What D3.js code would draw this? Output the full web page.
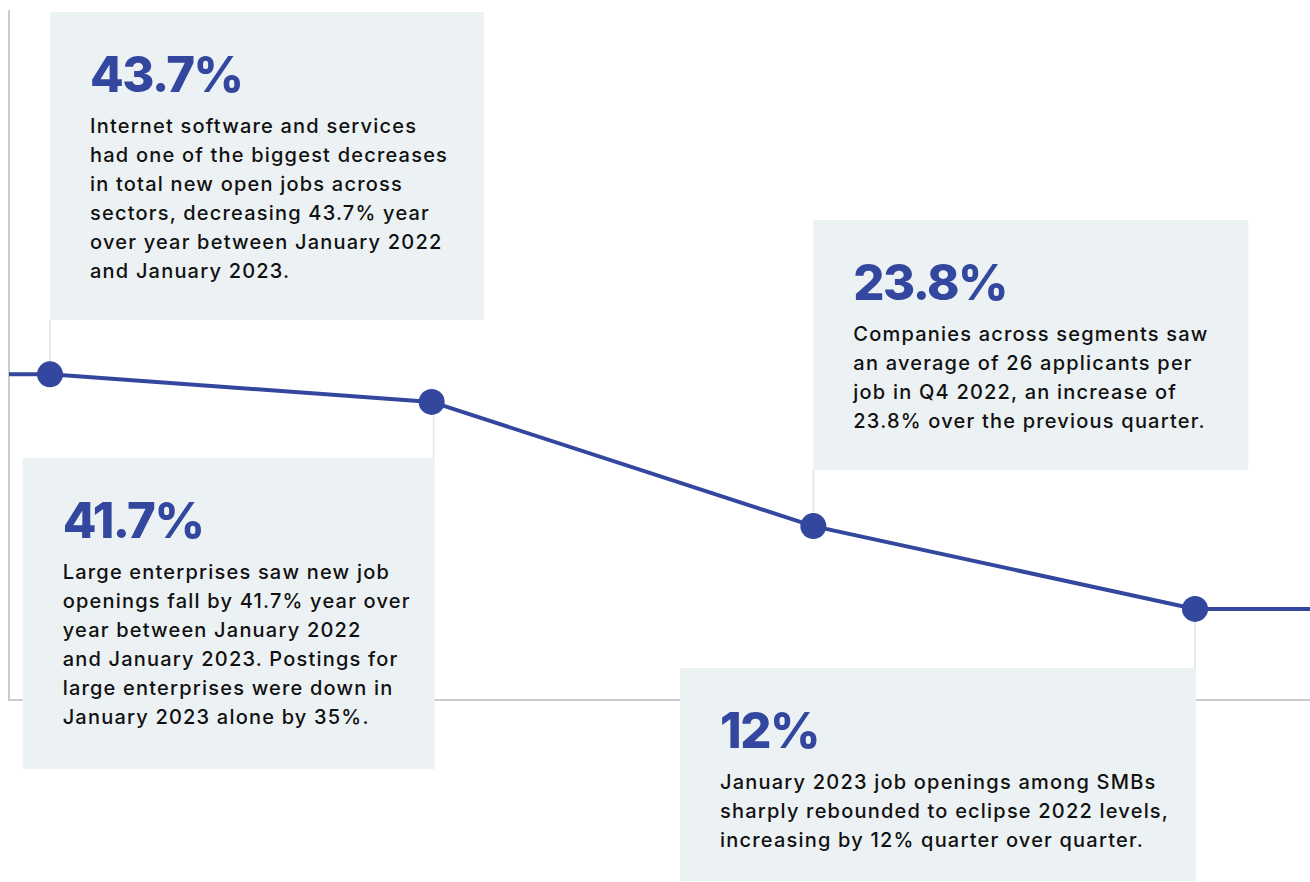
<!DOCTYPE html>
<html>
<head>
<meta charset="utf-8">
<script src="https://cdn.jsdelivr.net/npm/d3@7"></script>
<style>
  html, body { margin: 0; padding: 0; background: #fff; }
  svg { display: block; }
  .figure { font-family: Inter, "Open Sans", sans-serif; font-weight: 800; fill: #33479e; }
  .note { font-family: Inter, "Open Sans", sans-serif; font-weight: 500; fill: #111; }
</style>
</head>
<body>
<div id="chart"></div>
<script>
// Chart data
const stops = ['Jan 2022', 'Q3 2022', 'Q4 2022', 'Jan 2023'];
const values = [47.2, 43.2, 25.2, 13.2];
const figures = ['43.7%', '41.7%', '23.8%', '12%'];
const notes = [
    ['Internet software and services',
     'had one of the biggest decreases',
     'in total new open jobs across',
     'sectors, decreasing 43.7% year',
     'over year between January 2022',
     'and January 2023.'],
    ['Large enterprises saw new job',
     'openings fall by 41.7% year over',
     'year between January 2022',
     'and January 2023. Postings for',
     'large enterprises were down in',
     'January 2023 alone by 35%.'],
    ['Companies across segments saw',
     'an average of 26 applicants per',
     'job in Q4 2022, an increase of',
     '23.8% over the previous quarter.'],
    ['January 2023 job openings among SMBs',
     'sharply rebounded to eclipse 2022 levels,',
     'increasing by 12% quarter over quarter.']
];

// Callout box layout: anchored to the point, left or right aligned, above or below
const boxes = [
    { align: 'left',  top: 12,  bottom: 320, width: 434 },
    { align: 'right', top: 458, bottom: 769, width: 412, offset: 3 },
    { align: 'left',  top: 220, bottom: 470, width: 435 },
    { align: 'right', top: 668, bottom: 881, width: 516, offset: 1 }
];

const width = 1310;
const height = 882;
const frame = { left: 9, top: 10, bottom: 700 };
const lineColor = '#33479e';
const boxFill = '#ecf1f4';

const svg = d3.select('#chart')
    .append('svg')
    .attr('width', width)
    .attr('height', height);

const x = d3.scalePoint()
    .domain(stops)
    .range([50, 1195]);

const y = d3.scaleLinear()
    .domain([0, 100])
    .range([frame.bottom, frame.top]);

// Frame (left and bottom axis lines)
svg.append('path')
    .attr('d', `M${frame.left},${frame.top}V${frame.bottom}H${width}`)
    .attr('fill', 'none')
    .attr('stroke', '#c9cbcd')
    .attr('stroke-width', 2);

// Connectors from points to callouts
stops.forEach((s, i) => {
    const b = boxes[i];
    const py = y(values[i]);
    const cx = x(s) + (b.align === 'right' ? (b.offset || 0) - 1 : 0);
    svg.append('line')
        .attr('x1', cx).attr('x2', cx)
        .attr('y1', py)
        .attr('y2', b.bottom < py ? b.bottom : b.top)
        .attr('stroke', '#e4ebf0')
        .attr('stroke-width', 2);
});

// Callout boxes
stops.forEach((s, i) => {
    const b = boxes[i];
    const bx = b.align === 'left' ? x(s) : x(s) + (b.offset || 0) - b.width;
    const g = svg.append('g').attr('transform', `translate(${bx},${b.top})`);
    g.append('rect')
        .attr('width', b.width)
        .attr('height', b.bottom - b.top)
        .attr('fill', boxFill);
    g.append('text')
        .attr('class', 'figure')
        .attr('x', 40)
        .attr('y', 80)
        .attr('font-size', 49)
        .attr('letter-spacing', -1.5)
        .text(figures[i]);
    g.append('text')
        .attr('class', 'note')
        .attr('font-size', 20)
        .attr('letter-spacing', 1.2)
        .selectAll('tspan')
        .data(notes[i])
        .enter()
        .append('tspan')
        .attr('x', 40)
        .attr('y', (d, j) => 121 + j * 29)
        .text(d => d);
});

// Trend line, extended flat to the frame edges
const linePts = [[frame.left, y(values[0])]]
    .concat(stops.map((s, i) => [x(s), y(values[i])]))
    .concat([[width, y(values[values.length - 1])]]);

svg.append('path')
    .attr('d', d3.line()(linePts))
    .attr('fill', 'none')
    .attr('stroke', lineColor)
    .attr('stroke-width', 4);

svg.selectAll('circle.pt')
    .data(stops)
    .enter()
    .append('circle')
    .attr('class', 'pt')
    .attr('cx', d => x(d))
    .attr('cy', (d, i) => y(values[i]))
    .attr('r', 13)
    .attr('fill', lineColor);
</script>
</body>
</html>
